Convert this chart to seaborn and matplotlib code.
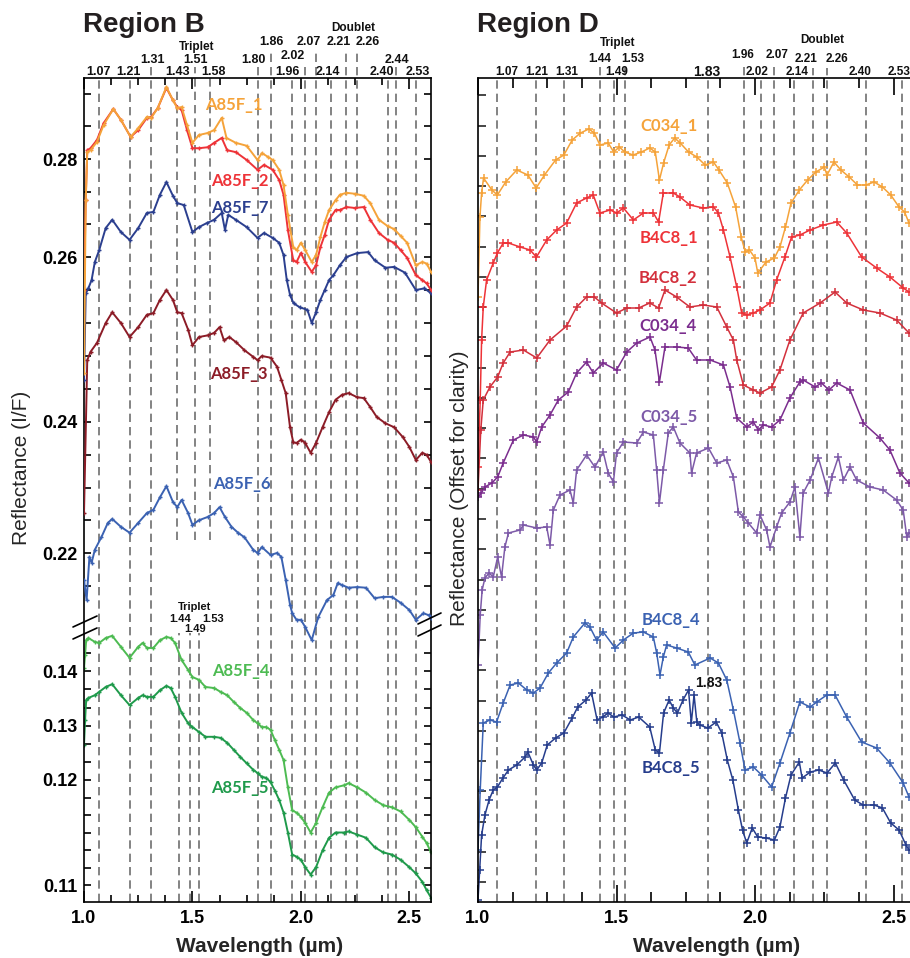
import numpy as np
import matplotlib
matplotlib.use("Agg")
import matplotlib.pyplot as plt
import seaborn as sns
from matplotlib.transforms import blended_transform_factory
from matplotlib.lines import Line2D
from matplotlib.ticker import FixedLocator, FixedFormatter, NullFormatter, MultipleLocator

# ---------------- Region B (left) data ----------------
w_a85f_1 = [1.000, 1.008, 1.015, 1.03, 1.06, 1.09, 1.135, 1.17, 1.215, 1.25, 1.29, 1.31, 1.34, 1.38, 1.41,
            1.43, 1.45, 1.475, 1.50, 1.53, 1.57, 1.60, 1.635, 1.657, 1.70, 1.75, 1.80, 1.82, 1.85, 1.87,
            1.90, 1.92, 1.94, 1.965, 1.98, 2.00, 2.02, 2.05, 2.07, 2.09, 2.11, 2.13, 2.16, 2.18, 2.21,
            2.25, 2.29, 2.32, 2.36, 2.40, 2.43, 2.46, 2.49, 2.53, 2.56, 2.58, 2.60]
r_a85f_1 = [0.2459, 0.2716, 0.2814, 0.2818, 0.2835, 0.2869, 0.2902, 0.2880, 0.2845, 0.2863, 0.2886, 0.2884,
            0.2904, 0.2947, 0.2920, 0.2904, 0.2906, 0.2869, 0.2833, 0.2849, 0.2853, 0.2859, 0.2884, 0.2843,
            0.2833, 0.2827, 0.2798, 0.2812, 0.2804, 0.2798, 0.2778, 0.2747, 0.2686, 0.2620, 0.2614, 0.2629,
            0.2614, 0.2594, 0.2604, 0.2641, 0.2671, 0.2696, 0.2716, 0.2727, 0.2731, 0.2729, 0.2725, 0.2710,
            0.2676, 0.2663, 0.2657, 0.2643, 0.2629, 0.2590, 0.2594, 0.2592, 0.2582]

w_a85f_2 = [1.000, 1.008, 1.015, 1.03, 1.06, 1.09, 1.135, 1.17, 1.215, 1.25, 1.29, 1.31, 1.34, 1.38, 1.41,
            1.43, 1.45, 1.475, 1.50, 1.53, 1.57, 1.60, 1.635, 1.66, 1.70, 1.75, 1.80, 1.83, 1.87, 1.90,
            1.92, 1.94, 1.965, 1.98, 2.00, 2.02, 2.05, 2.07, 2.09, 2.11, 2.13, 2.16, 2.18, 2.21, 2.25,
            2.29, 2.32, 2.36, 2.40, 2.43, 2.46, 2.49, 2.53, 2.56, 2.58, 2.60]
r_a85f_2 = [0.2560, 0.2716, 0.2818, 0.2822, 0.2839, 0.2873, 0.2902, 0.2880, 0.2845, 0.2859, 0.2884, 0.2886,
            0.2904, 0.2945, 0.2920, 0.2906, 0.2900, 0.2859, 0.2822, 0.2822, 0.2824, 0.2833, 0.2843, 0.2818,
            0.2814, 0.2798, 0.2778, 0.2788, 0.2778, 0.2757, 0.2727, 0.2655, 0.2596, 0.2594, 0.2608, 0.2594,
            0.2582, 0.2590, 0.2620, 0.2645, 0.2676, 0.2696, 0.2696, 0.2702, 0.2700, 0.2702, 0.2676, 0.2649,
            0.2635, 0.2629, 0.2614, 0.2599, 0.2578, 0.2572, 0.2568, 0.2560]

w_a85f_7 = [1.000, 1.008, 1.02, 1.035, 1.05, 1.07, 1.10, 1.13, 1.17, 1.21, 1.25, 1.29, 1.32, 1.35, 1.38,
            1.41, 1.43, 1.46, 1.50, 1.53, 1.565, 1.60, 1.635, 1.65, 1.665, 1.70, 1.75, 1.80, 1.83, 1.87,
            1.90, 1.92, 1.935, 1.95, 1.966, 1.995, 2.03, 2.05, 2.07, 2.09, 2.11, 2.13, 2.15, 2.18, 2.21,
            2.26, 2.31, 2.34, 2.39, 2.43, 2.48, 2.53, 2.57, 2.60]
r_a85f_7 = [0.2451, 0.2556, 0.2562, 0.2572, 0.2594, 0.2614, 0.2659, 0.2676, 0.2651, 0.2635, 0.2659, 0.2690,
            0.2692, 0.2727, 0.2753, 0.2725, 0.2710, 0.2706, 0.2651, 0.2661, 0.2669, 0.2676, 0.2690, 0.2655,
            0.2686, 0.2676, 0.2661, 0.2639, 0.2649, 0.2639, 0.2629, 0.2604, 0.2572, 0.2554, 0.2544, 0.2539,
            0.2536, 0.2520, 0.2533, 0.2548, 0.2560, 0.2572, 0.2578, 0.2590, 0.2600, 0.2608, 0.2610, 0.2596,
            0.2587, 0.2588, 0.2581, 0.2560, 0.2562, 0.2556]

w_a85f_3 = [1.000, 1.015, 1.03, 1.06, 1.10, 1.13, 1.17, 1.21, 1.25, 1.29, 1.32, 1.35, 1.38, 1.41, 1.43,
            1.45, 1.48, 1.50, 1.53, 1.57, 1.60, 1.625, 1.645, 1.67, 1.70, 1.74, 1.78, 1.80, 1.82, 1.86,
            1.89, 1.91, 1.93, 1.95, 1.965, 1.98, 2.00, 2.02, 2.045, 2.07, 2.10, 2.13, 2.16, 2.19, 2.22,
            2.26, 2.29, 2.32, 2.35, 2.39, 2.43, 2.47, 2.50, 2.53, 2.56, 2.58, 2.60]
r_a85f_3 = [0.2261, 0.2475, 0.2485, 0.2496, 0.2520, 0.2533, 0.2520, 0.2503, 0.2515, 0.2530, 0.2532, 0.2548,
            0.2560, 0.2548, 0.2533, 0.2532, 0.2512, 0.2493, 0.2503, 0.2505, 0.2508, 0.2515, 0.2499, 0.2503,
            0.2497, 0.2487, 0.2479, 0.2475, 0.2480, 0.2478, 0.2467, 0.2451, 0.2435, 0.2392, 0.2369, 0.2368,
            0.2373, 0.2368, 0.2353, 0.2368, 0.2392, 0.2412, 0.2427, 0.2433, 0.2435, 0.2430, 0.2429, 0.2418,
            0.2406, 0.2398, 0.2392, 0.2377, 0.2362, 0.2342, 0.2353, 0.2350, 0.2339]

w_a85f_6 = [1.000, 1.012, 1.025, 1.035, 1.05, 1.08, 1.11, 1.13, 1.17, 1.21, 1.25, 1.29, 1.32, 1.35, 1.38,
            1.41, 1.43, 1.45, 1.48, 1.50, 1.53, 1.57, 1.60, 1.625, 1.65, 1.68, 1.71, 1.74, 1.78, 1.80,
            1.82, 1.86, 1.89, 1.91, 1.93, 1.95, 1.96, 1.98, 2.00, 2.02, 2.05, 2.08, 2.12, 2.15, 2.17,
            2.19, 2.22, 2.26, 2.30, 2.34, 2.38, 2.42, 2.46, 2.50, 2.53, 2.565, 2.59, 2.60]
r_a85f_6 = [0.2159, 0.2128, 0.2194, 0.2185, 0.2205, 0.2224, 0.2246, 0.2252, 0.2240, 0.2231, 0.2246, 0.2261,
            0.2266, 0.2285, 0.2302, 0.2278, 0.2270, 0.2281, 0.2261, 0.2243, 0.2250, 0.2255, 0.2261, 0.2270,
            0.2255, 0.2240, 0.2231, 0.2224, 0.2205, 0.2200, 0.2209, 0.2197, 0.2200, 0.2194, 0.2159, 0.2121,
            0.2108, 0.2098, 0.2098, 0.2087, 0.2067, 0.2102, 0.2128, 0.2136, 0.2154, 0.2151, 0.2147, 0.2148,
            0.2147, 0.2131, 0.2133, 0.2133, 0.2124, 0.2113, 0.2098, 0.2108, 0.2105, 0.2101]

w_a85f_45 = [1.000, 1.005, 1.01, 1.02, 1.05, 1.07, 1.10, 1.13, 1.17, 1.21, 1.25, 1.27, 1.29, 1.32, 1.35,
             1.38, 1.40, 1.42, 1.45, 1.48, 1.50, 1.53, 1.56, 1.60, 1.63, 1.66, 1.69, 1.72, 1.75, 1.78,
             1.80, 1.82, 1.84, 1.86, 1.88, 1.90, 1.92, 1.94, 1.96, 1.98, 2.00, 2.02, 2.045, 2.07, 2.10,
             2.13, 2.16, 2.20, 2.22, 2.26, 2.30, 2.34, 2.38, 2.42, 2.46, 2.50, 2.53, 2.56, 2.58, 2.60]
r_a85f_4 = [0.1405, 0.1429, 0.1456, 0.1460, 0.1453, 0.1451, 0.1460, 0.1464, 0.1444, 0.1424, 0.1444, 0.1451,
            0.1442, 0.1442, 0.1456, 0.1462, 0.1460, 0.1451, 0.1420, 0.1402, 0.1389, 0.1384, 0.1371, 0.1369,
            0.1362, 0.1356, 0.1344, 0.1333, 0.1324, 0.1311, 0.1305, 0.1298, 0.1298, 0.1293, 0.1274, 0.1256,
            0.1237, 0.1193, 0.1171, 0.1169, 0.1165, 0.1159, 0.1150, 0.1159, 0.1174, 0.1188, 0.1193, 0.1195,
            0.1197, 0.1193, 0.1188, 0.1181, 0.1176, 0.1174, 0.1170, 0.1162, 0.1155, 0.1146, 0.1140, 0.1131]
r_a85f_5 = [0.1265, 0.1311, 0.1347, 0.1351, 0.1356, 0.1362, 0.1371, 0.1376, 0.1356, 0.1338, 0.1351, 0.1356,
            0.1353, 0.1353, 0.1365, 0.1373, 0.1369, 0.1353, 0.1324, 0.1305, 0.1298, 0.1289, 0.1280, 0.1280,
            0.1278, 0.1269, 0.1256, 0.1243, 0.1231, 0.1219, 0.1213, 0.1206, 0.1204, 0.1198, 0.1190, 0.1181,
            0.1169, 0.1150, 0.1129, 0.1127, 0.1124, 0.1117, 0.1110, 0.1117, 0.1133, 0.1145, 0.1150, 0.1150,
            0.1151, 0.1148, 0.1145, 0.1136, 0.1131, 0.1129, 0.1124, 0.1117, 0.1111, 0.1103, 0.1095, 0.1088]

# ---------------- Region D (right) data, offset for clarity ----------------
w_c034_1 = [1.000, 1.007, 1.013, 1.020, 1.050, 1.070, 1.100, 1.140, 1.180, 1.210, 1.240, 1.280, 1.310, 1.340,
            1.370, 1.400, 1.420, 1.440, 1.470, 1.490, 1.510, 1.530, 1.560, 1.590, 1.620, 1.640, 1.655, 1.670,
            1.690, 1.710, 1.730, 1.760, 1.790, 1.820, 1.850, 1.870, 1.900, 1.930, 1.950, 1.965, 1.980, 2.000,
            2.010, 2.040, 2.070, 2.090, 2.110, 2.130, 2.160, 2.190, 2.220, 2.250, 2.260, 2.285, 2.310, 2.340,
            2.370, 2.400, 2.430, 2.460, 2.490, 2.520, 2.540, 2.556]
r_c034_1 = [0.605, 0.685, 0.709, 0.724, 0.712, 0.707, 0.720, 0.732, 0.727, 0.714, 0.727, 0.742, 0.747, 0.762,
            0.769, 0.773, 0.769, 0.757, 0.759, 0.750, 0.755, 0.750, 0.747, 0.750, 0.754, 0.750, 0.722, 0.739,
            0.757, 0.764, 0.759, 0.750, 0.745, 0.737, 0.740, 0.732, 0.719, 0.695, 0.665, 0.650, 0.652, 0.644,
            0.629, 0.640, 0.644, 0.655, 0.675, 0.699, 0.712, 0.722, 0.730, 0.735, 0.727, 0.740, 0.732, 0.725,
            0.717, 0.717, 0.720, 0.715, 0.707, 0.695, 0.690, 0.679]

w_b4c8_1 = [1.000, 1.008, 1.013, 1.019, 1.031, 1.055, 1.070, 1.091, 1.110, 1.152, 1.188, 1.211, 1.248, 1.284,
            1.320, 1.356, 1.392, 1.416, 1.440, 1.477, 1.501, 1.525, 1.561, 1.597, 1.633, 1.652, 1.669, 1.705,
            1.729, 1.765, 1.813, 1.850, 1.868, 1.886, 1.910, 1.934, 1.952, 1.970, 1.994, 2.018, 2.054, 2.078,
            2.108, 2.132, 2.162, 2.199, 2.247, 2.295, 2.331, 2.385, 2.439, 2.487, 2.535, 2.556]
r_b4c8_1 = [0.435, 0.502, 0.562, 0.595, 0.622, 0.639, 0.649, 0.659, 0.659, 0.655, 0.652, 0.645, 0.662, 0.672,
            0.679, 0.699, 0.704, 0.707, 0.689, 0.692, 0.689, 0.694, 0.682, 0.689, 0.689, 0.680, 0.709, 0.709,
            0.705, 0.697, 0.694, 0.695, 0.689, 0.672, 0.645, 0.615, 0.589, 0.587, 0.589, 0.592, 0.599, 0.622,
            0.645, 0.665, 0.667, 0.672, 0.677, 0.680, 0.669, 0.645, 0.634, 0.625, 0.614, 0.610]

w_b4c8_2 = [1.000, 1.010, 1.019, 1.043, 1.071, 1.091, 1.116, 1.164, 1.212, 1.260, 1.320, 1.356, 1.392, 1.420,
            1.446, 1.500, 1.537, 1.580, 1.620, 1.652, 1.675, 1.717, 1.765, 1.813, 1.862, 1.898, 1.922, 1.934,
            1.958, 1.994, 2.018, 2.060, 2.090, 2.126, 2.174, 2.235, 2.289, 2.331, 2.391, 2.451, 2.511, 2.556]
r_b4c8_2 = [0.412, 0.472, 0.502, 0.515, 0.525, 0.539, 0.550, 0.552, 0.544, 0.562, 0.576, 0.595, 0.605, 0.605,
            0.599, 0.589, 0.594, 0.594, 0.599, 0.594, 0.612, 0.605, 0.595, 0.597, 0.595, 0.575, 0.562, 0.542,
            0.517, 0.512, 0.509, 0.515, 0.532, 0.562, 0.589, 0.599, 0.610, 0.599, 0.592, 0.589, 0.582, 0.569]

w_c034_4 = [1.000, 1.012, 1.025, 1.050, 1.071, 1.091, 1.128, 1.164, 1.200, 1.212, 1.230, 1.260, 1.290, 1.326,
            1.356, 1.392, 1.416, 1.452, 1.500, 1.537, 1.573, 1.621, 1.639, 1.655, 1.675, 1.717, 1.759, 1.789,
            1.838, 1.886, 1.910, 1.934, 1.970, 1.994, 2.012, 2.030, 2.060, 2.090, 2.126, 2.162, 2.174, 2.217,
            2.240, 2.267, 2.295, 2.343, 2.391, 2.451, 2.487, 2.523, 2.556]
r_c034_4 = [0.405, 0.409, 0.415, 0.419, 0.425, 0.439, 0.462, 0.467, 0.465, 0.460, 0.475, 0.487, 0.502, 0.510,
            0.529, 0.540, 0.529, 0.539, 0.532, 0.550, 0.559, 0.565, 0.552, 0.520, 0.555, 0.555, 0.554, 0.542,
            0.542, 0.537, 0.515, 0.484, 0.475, 0.480, 0.472, 0.477, 0.475, 0.482, 0.504, 0.520, 0.522, 0.515,
            0.519, 0.512, 0.519, 0.512, 0.479, 0.464, 0.452, 0.429, 0.419]

w_c034_5 = [1.000, 1.008, 1.015, 1.025, 1.040, 1.055, 1.071, 1.085, 1.097, 1.110, 1.152, 1.164, 1.212, 1.248,
            1.260, 1.272, 1.296, 1.332, 1.344, 1.356, 1.392, 1.422, 1.452, 1.470, 1.489, 1.500, 1.525, 1.573,
            1.597, 1.633, 1.645, 1.655, 1.669, 1.687, 1.705, 1.729, 1.765, 1.771, 1.789, 1.832, 1.862, 1.898,
            1.922, 1.940, 1.958, 1.976, 2.006, 2.018, 2.042, 2.054, 2.078, 2.096, 2.126, 2.144, 2.162, 2.174,
            2.199, 2.229, 2.265, 2.277, 2.301, 2.319, 2.343, 2.367, 2.415, 2.463, 2.511, 2.535, 2.548, 2.556]
r_c034_5 = [0.237, 0.287, 0.312, 0.324, 0.329, 0.325, 0.345, 0.325, 0.355, 0.369, 0.372, 0.377, 0.374, 0.375,
            0.357, 0.392, 0.407, 0.412, 0.399, 0.432, 0.447, 0.435, 0.450, 0.429, 0.420, 0.449, 0.460, 0.459,
            0.470, 0.467, 0.432, 0.399, 0.432, 0.469, 0.475, 0.459, 0.449, 0.429, 0.449, 0.454, 0.439, 0.442,
            0.425, 0.390, 0.385, 0.379, 0.369, 0.387, 0.372, 0.355, 0.375, 0.389, 0.400, 0.415, 0.365, 0.409,
            0.422, 0.444, 0.409, 0.425, 0.445, 0.422, 0.435, 0.422, 0.415, 0.412, 0.402, 0.392, 0.365, 0.369]

w_b4c8_4 = [1.000, 1.008, 1.019, 1.043, 1.067, 1.091, 1.116, 1.146, 1.176, 1.200, 1.224, 1.254, 1.284, 1.320,
            1.344, 1.386, 1.404, 1.428, 1.452, 1.495, 1.525, 1.561, 1.597, 1.633, 1.645, 1.657, 1.669, 1.681,
            1.717, 1.759, 1.783, 1.838, 1.868, 1.898, 1.922, 1.946, 1.964, 1.994, 2.024, 2.060, 2.090, 2.126,
            2.162, 2.199, 2.223, 2.259, 2.289, 2.331, 2.385, 2.439, 2.487, 2.535, 2.556]
r_b4c8_4 = [0.052, 0.112, 0.179, 0.182, 0.180, 0.199, 0.217, 0.219, 0.212, 0.209, 0.214, 0.229, 0.239, 0.249,
            0.265, 0.279, 0.275, 0.262, 0.270, 0.254, 0.262, 0.269, 0.270, 0.265, 0.249, 0.227, 0.245, 0.257,
            0.254, 0.250, 0.237, 0.244, 0.239, 0.222, 0.192, 0.159, 0.132, 0.135, 0.127, 0.115, 0.139, 0.169,
            0.200, 0.195, 0.200, 0.207, 0.207, 0.185, 0.160, 0.154, 0.139, 0.119, 0.105]

w_b4c8_5 = [1.000, 1.006, 1.013, 1.025, 1.040, 1.055, 1.070, 1.090, 1.110, 1.140, 1.170, 1.180, 1.200, 1.212,
            1.230, 1.250, 1.280, 1.310, 1.340, 1.360, 1.390, 1.410, 1.430, 1.450, 1.470, 1.490, 1.520, 1.550,
            1.580, 1.620, 1.640, 1.655, 1.670, 1.690, 1.705, 1.720, 1.740, 1.760, 1.770, 1.780, 1.790, 1.800,
            1.830, 1.860, 1.880, 1.900, 1.920, 1.940, 1.955, 1.970, 1.990, 2.010, 2.040, 2.070, 2.090, 2.110,
            2.130, 2.160, 2.170, 2.200, 2.230, 2.260, 2.290, 2.320, 2.360, 2.390, 2.430, 2.460, 2.490, 2.520,
            2.545, 2.556]
r_b4c8_5 = [0.002, 0.032, 0.067, 0.087, 0.102, 0.112, 0.115, 0.124, 0.132, 0.137, 0.145, 0.150, 0.137, 0.132,
            0.139, 0.157, 0.164, 0.169, 0.184, 0.195, 0.202, 0.209, 0.182, 0.185, 0.189, 0.185, 0.187, 0.182,
            0.185, 0.175, 0.152, 0.149, 0.189, 0.202, 0.194, 0.189, 0.202, 0.212, 0.179, 0.207, 0.180, 0.177,
            0.174, 0.180, 0.169, 0.142, 0.122, 0.092, 0.072, 0.059, 0.074, 0.065, 0.064, 0.062, 0.075, 0.104,
            0.127, 0.140, 0.124, 0.130, 0.132, 0.129, 0.139, 0.122, 0.102, 0.097, 0.097, 0.094, 0.079, 0.072,
            0.057, 0.052]

# band-position lines (µm)
lines_B_full = [1.07, 1.21, 1.31, 1.80, 1.86, 1.96, 2.02, 2.07, 2.14, 2.21, 2.26, 2.40, 2.44, 2.53]
lines_B_triplet_upper = [1.43, 1.51, 1.58]
lines_B_triplet_lower = [1.44, 1.49, 1.53]
lines_D = [1.07, 1.21, 1.31, 1.44, 1.49, 1.53, 1.83, 1.96, 2.02, 2.07, 2.14, 2.21, 2.26, 2.40, 2.53]

# y tick labels of the broken Region B axis
ticks_B_upper = [0.22, 0.24, 0.26, 0.28]
ticks_B_lower = [0.11, 0.12, 0.13, 0.14]

# ---------------- styling ----------------
sns.set_theme(style="ticks")
plt.rcParams["font.family"] = ["Liberation Sans", "DejaVu Sans"]
plt.rcParams["font.weight"] = "bold"
plt.rcParams["axes.linewidth"] = 1.2
plt.rcParams["axes.edgecolor"] = "black"

W, H = 910, 958
fig = plt.figure(figsize=(W / 100, H / 100), dpi=100, facecolor="white")


def rect(x0, y0, x1, y1):
    return [x0 / W, (H - y1) / H, (x1 - x0) / W, (y1 - y0) / H]


axL = fig.add_axes(rect(84, 78, 431, 902))
axU = fig.add_axes(rect(84, 78, 431, 902), sharex=axL)
axR = fig.add_axes(rect(478, 78, 956, 902))

# piecewise scales reproducing the irregular spacing of the printed tick labels
UP_V = [0.10, 0.22, 0.24, 0.26, 0.28, 0.40]
UP_H = [349 - 0.12 * 6550, 349, 480, 645, 743, 743 + 0.12 * 4900]
LO_V = [0.05, 0.11, 0.12, 0.13, 0.14, 0.30]
LO_H = [17 - 0.06 * 10500, 17, 122, 176, 231, 231 + 0.16 * 5500]


def up_fwd(v):
    return np.interp(np.asarray(v, float), UP_V, UP_H)


def up_inv(h):
    return np.interp(np.asarray(h, float), UP_H, UP_V)


def lo_fwd(v):
    return np.interp(np.asarray(v, float), LO_V, LO_H)


def lo_inv(h):
    return np.interp(np.asarray(h, float), LO_H, LO_V)


axU.set_yscale("function", functions=(up_fwd, up_inv))
axL.set_yscale("function", functions=(lo_fwd, lo_inv))

# ---------------- curves ----------------
C_ORANGE, C_RED, C_NAVY, C_MAROON, C_BLUE = "#f5a33a", "#ee3338", "#2b3f8f", "#8c1c27", "#3b62b2"
C_LGREEN, C_GREEN = "#4dbb52", "#1f9a4b"
C_CRIMSON, C_PURPLE, C_LPURPLE, C_DBLUE = "#d3303c", "#7b2d8e", "#7d5aa8", "#263d8c"


def curve(ax, x, y, c, right=False):
    if right:
        kw = dict(linewidth=1.1, marker="+", markersize=6, markeredgewidth=1.1)
    else:
        kw = dict(linewidth=1.4, marker="+", markersize=3.5, markeredgewidth=1.0)
    sns.lineplot(x=x, y=y, ax=ax, color=c, markeredgecolor=c, markerfacecolor=c,
                 sort=False, estimator=None, **kw)


curve(axU, w_a85f_6, r_a85f_6, C_BLUE)
curve(axU, w_a85f_3, r_a85f_3, C_MAROON)
curve(axU, w_a85f_7, r_a85f_7, C_NAVY)
curve(axU, w_a85f_2, r_a85f_2, C_RED)
curve(axU, w_a85f_1, r_a85f_1, C_ORANGE)
curve(axL, w_a85f_45, r_a85f_4, C_LGREEN)
curve(axL, w_a85f_45, r_a85f_5, C_GREEN)

curve(axR, w_c034_1, r_c034_1, C_ORANGE, True)
curve(axR, w_b4c8_1, r_b4c8_1, C_RED, True)
curve(axR, w_b4c8_2, r_b4c8_2, C_CRIMSON, True)
curve(axR, w_c034_4, r_c034_4, C_PURPLE, True)
curve(axR, w_c034_5, r_c034_5, C_LPURPLE, True)
curve(axR, w_b4c8_4, r_b4c8_4, C_BLUE, True)
curve(axR, w_b4c8_5, r_b4c8_5, C_DBLUE, True)

# ---------------- axes limits / ticks ----------------
axL.set_xlim(1.0, 2.6)
axR.set_xlim(1.0, 1.0 + 478 / 277)
axU.set_ylim(up_inv(0), up_inv(824))
axL.set_ylim(lo_inv(0), lo_inv(824))
axR.set_ylim(0.0, 0.824)

for ax, majlen, minlen in ((axL, 8, 5), (axR, 12, 7)):
    ax.set_xticks([1.0, 1.5, 2.0, 2.5])
    ax.set_xticklabels(["1.0", "1.5", "2.0", "2.5"])
    ax.xaxis.set_minor_locator(MultipleLocator(0.125))
    ax.tick_params(axis="x", which="both", direction="in", top=True, bottom=True,
                   labelsize=13, pad=6, width=1.2, colors="black")
    ax.tick_params(axis="x", which="major", length=majlen)
    ax.tick_params(axis="x", which="minor", length=minlen)

axU.tick_params(axis="x", which="both", bottom=False, top=False, labelbottom=False, labeltop=False)
for s in axU.spines.values():
    s.set_visible(False)
axU.patch.set_visible(False)

up_minor = (list(np.linspace(0.28, 0.26, 4)[1:-1]) + list(np.linspace(0.26, 0.24, 6)[1:-1])
            + list(np.linspace(0.24, 0.22, 5)[1:-1]) + [0.215, 0.28 + 0.02 / 3, 0.28 + 0.04 / 3])
lo_minor = (list(np.linspace(0.14, 0.13, 4)[1:-1]) + list(np.linspace(0.13, 0.12, 4)[1:-1])
            + list(np.linspace(0.12, 0.11, 7)[1:-1]) + [0.14 + 0.01 / 3])

axU.yaxis.set_major_locator(FixedLocator(ticks_B_upper))
axU.yaxis.set_major_formatter(FixedFormatter([f"{t:.2f}" for t in ticks_B_upper]))
axU.yaxis.set_minor_locator(FixedLocator(up_minor))
axU.yaxis.set_minor_formatter(NullFormatter())
axL.yaxis.set_major_locator(FixedLocator(ticks_B_lower))
axL.yaxis.set_major_formatter(FixedFormatter([f"{t:.2f}" for t in ticks_B_lower]))
axL.yaxis.set_minor_locator(FixedLocator(lo_minor))
axL.yaxis.set_minor_formatter(NullFormatter())
for ax in (axU, axL):
    ax.tick_params(axis="y", which="both", direction="in", left=True, right=True,
                   length=5, width=1.2, labelsize=13, pad=5, colors="black")

axR.yaxis.set_major_locator(FixedLocator(np.arange(20, 824, 30.25) / 1000))
axR.yaxis.set_minor_locator(FixedLocator([]))
axR.tick_params(axis="y", which="both", direction="in", left=True, right=False,
                labelleft=False, length=6, width=1.2)

# ---------------- dashed band lines ----------------
dash = dict(color="#6e6e6e", lw=1.2, ls=(0, (5, 3)), zorder=0.5, clip_on=False)


def ext(ytop):
    return (902 - ytop) / 824


ext_B = {1.31: 67, 1.51: 67, 1.80: 67, 1.86: 50, 2.02: 64, 2.07: 50, 2.21: 50, 2.26: 50, 2.44: 67}
ext_D = {1.44: 67, 1.53: 67, 1.96: 63, 2.07: 63, 2.21: 68, 2.26: 68}

for x in lines_B_full:
    axL.axvline(x, 0, ext(ext_B.get(x, 78)), **dash)
for x in lines_B_triplet_upper:
    axL.axvline(x, ext(540), ext(ext_B.get(x, 78)), **dash)
for x in lines_B_triplet_lower:
    axL.axvline(x, 0, ext(633), **dash)
for x in lines_D:
    axR.axvline(x, 0, ext(ext_D.get(x, 78)), **dash)

# ---------------- band labels above the panels ----------------
top_B = [("1.07", 1.065, 72), ("1.21", 1.207, 72), ("1.31", 1.314, 60), ("Triplet", 1.521, 47),
         ("1.51", 1.512, 60), ("1.43", 1.433, 72), ("1.58", 1.595, 72), ("1.80", 1.779, 60),
         ("1.86", 1.862, 42), ("2.02", 1.964, 56), ("1.96", 1.936, 72), ("2.07", 2.037, 42),
         ("Doublet", 2.240, 28), ("2.21", 2.176, 42), ("2.26", 2.309, 42), ("2.14", 2.125, 72),
         ("2.44", 2.443, 60), ("2.40", 2.374, 72), ("2.53", 2.540, 72)]
top_D = [("1.07", 1.104, 72), ("1.21", 1.212, 72), ("1.31", 1.322, 72), ("Triplet", 1.503, 43),
         ("1.44", 1.440, 59), ("1.53", 1.558, 59), ("1.49", 1.501, 72), ("1.83", 1.826, 72),
         ("1.96", 1.955, 55), ("2.07", 2.078, 55), ("2.02", 2.008, 72), ("Doublet", 2.244, 40),
         ("2.21", 2.184, 59), ("2.26", 2.295, 59), ("2.14", 2.153, 72), ("2.40", 2.379, 72),
         ("2.53", 2.521, 72)]
for ax, labels in ((axL, top_B), (axR, top_D)):
    tr = blended_transform_factory(ax.transData, fig.transFigure)
    for s, x, ypx in labels:
        if s in ("Triplet", "Doublet"):
            fs = 8.5
        elif ax is axR and s == "1.83":
            fs = 10
        elif ax is axR:
            fs = 8.5
        else:
            fs = 9
        ax.text(x, (H - ypx) / H, s, transform=tr, ha="center", va="center",
                fontsize=fs, fontweight="bold", color="#111111", clip_on=False)


def ftext(xpx, ypx, s, **kw):
    fig.text(xpx / W, (H - ypx) / H, s, ha="center", va="center", **kw)


# lower triplet annotation (Region B) and 1.83 annotation (Region D)
ftext(195, 607, "Triplet", fontsize=8, fontweight="bold", color="#111111")
ftext(180, 619, "1.44", fontsize=8, fontweight="bold", color="#111111")
ftext(213, 619, "1.53", fontsize=8, fontweight="bold", color="#111111")
ftext(195, 629, "1.49", fontsize=8, fontweight="bold", color="#111111")
ftext(709, 683, "1.83", fontsize=10, fontweight="bold", color="#111111")

# series labels
series_labels = [("A85F_1", 234, 105, C_ORANGE), ("A85F_2", 240, 181, C_RED), ("A85F_7", 240, 208, C_NAVY),
                 ("A85F_3", 239, 374, C_MAROON), ("A85F_6", 242, 484, C_BLUE), ("A85F_4", 241, 671, C_LGREEN),
                 ("A85F_5", 240, 788, C_GREEN),
                 ("C034_1", 669, 126, C_ORANGE), ("B4C8_1", 669, 238, C_RED), ("B4C8_2", 668, 278, C_CRIMSON),
                 ("C034_4", 668, 326, C_PURPLE), ("C034_5", 669, 417, C_LPURPLE), ("B4C8_4", 671, 620, C_BLUE),
                 ("B4C8_5", 671, 768, C_DBLUE)]
for s, x, y, c in series_labels:
    ftext(x, y, s, fontsize=12, fontweight="bold", color=c, family=["Lato", "DejaVu Sans"])

# axis-break marks
for (x0, y0, x1, y1) in [(73, 627, 97, 616), (73, 639, 97, 628), (418, 624, 441, 613), (418, 636, 441, 625)]:
    fig.add_artist(Line2D([x0 / W, x1 / W], [(H - y0) / H, (H - y1) / H], color="black", lw=1.2))

# titles and axis labels
fig.text(83 / W, (H - 25) / H, "Region B", fontsize=20, fontweight="bold", va="center", ha="left", color="#231f20")
fig.text(477 / W, (H - 25) / H, "Region D", fontsize=20, fontweight="bold", va="center", ha="left", color="#231f20")

axL.set_xlabel("Wavelength (µm)", fontsize=15, fontweight="bold")
axL.xaxis.set_label_coords((260 - 84) / 347, (902 - 937) / 824)
axR.set_xlabel("Wavelength (µm)", fontsize=15, fontweight="bold")
axR.xaxis.set_label_coords(0.5, (902 - 937) / 824)

axU.set_ylabel("")
axL.set_ylabel("Reflectance (I/F)", fontsize=15, fontweight="normal")
axL.yaxis.set_label_coords((31 - 84) / 347, (902 - 468) / 824)
axR.set_ylabel("Reflectance (Offset for clarity)", fontsize=15, fontweight="normal")
axR.yaxis.set_label_coords((469 - 478) / 478, (902 - 488) / 824)
axR.spines["right"].set_visible(False)

fig.savefig("out.png", dpi=100, facecolor="white")
